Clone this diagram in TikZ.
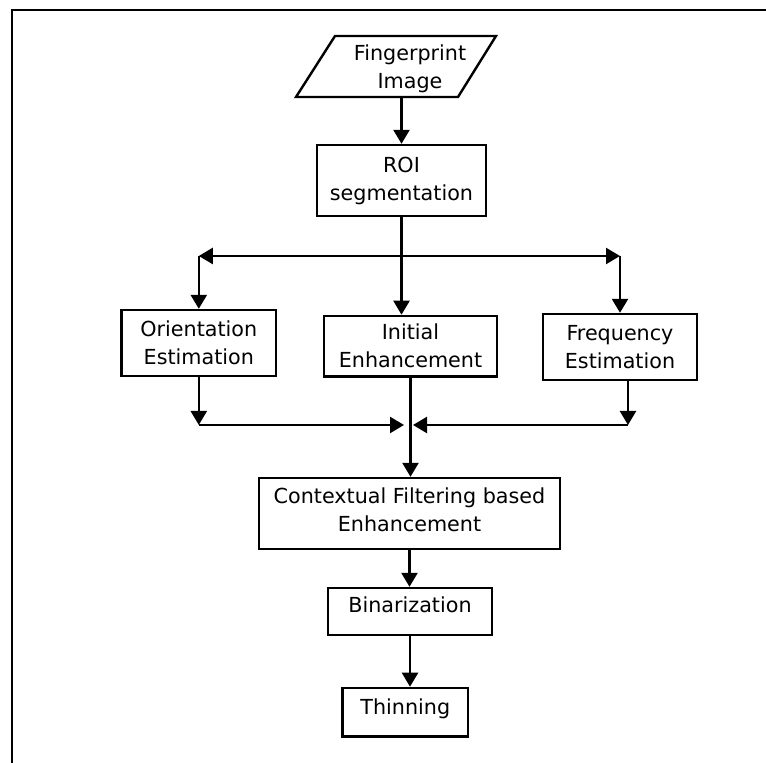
\documentclass[tikz,border=0pt]{standalone}
\usepackage{fontspec}
\setmainfont{DejaVu Sans}
\usetikzlibrary{arrows.meta}

\begin{document}
\begin{tikzpicture}[x=0.5pt, y=-0.5pt, line width=1.2pt, >={Triangle[length=7pt,width=8pt]},
  txt/.style={inner sep=0pt, align=center, font=\fontsize{10.35pt}{14pt}\selectfont},
  box/.style={txt, draw}]
\useasboundingbox (0,0) rectangle (766,763);
\draw (12,763) -- (12,10) -- (766,10);

% input image
\draw (335,36) -- (496,36) -- (458,97) -- (296,97) -- cycle;
\node[txt] at (410,68.6)(img) {Fingerprint\\Image};
\coordinate (imgbot) at (401.5,97);

\node[box, minimum width=84.5pt, minimum height=35.5pt] at (401.5,180.5)(roi) {ROI\\segmentation};
\node[box, minimum width=77.2pt, minimum height=33pt] at (198.8,343)(ori) {Orientation\\Estimation};
\node[box, minimum width=86.5pt, minimum height=30.3pt] at (410.5,346.2)(init) {Initial\\Enhancement};
\node[box, minimum width=77pt, minimum height=33pt] at (620,347)(freq) {Frequency\\Estimation};
\node[box, minimum width=150.5pt, minimum height=35.5pt, text depth=4pt] at (409.5,513.5)(ctx) {Contextual Filtering based\\Enhancement};
\node[box, minimum width=82pt, minimum height=23.5pt, text depth=6.6pt] at (410,611.5)(bin) {Binarization};
\node[box, minimum width=62.7pt, minimum height=24.4pt, text depth=5.2pt] at (405.3,712.3)(thin) {Thinning};

\coordinate (split) at (401.5,256);
\coordinate (merge) at (408.5,425);

\draw[->] (imgbot) -- (roi.north);
\draw[->] (roi.south) -- (roi.south |- init.north);
\draw[<->] (split -| ori.north) -- (split -| freq.north);
\draw[->] (split -| ori.north) -- (ori.north);
\draw[->] (split -| freq.north) -- (freq.north);

\draw[->] (ori.south) -- (ori.south |- merge);
\draw[->] (ori.south |- merge) -- ([xshift=-2.25pt]merge);
\draw[->] ([xshift=4pt]freq.south) -- ([xshift=4pt]freq.south |- merge);
\draw[->] ([xshift=4pt]freq.south |- merge) -- ([xshift=2.25pt]merge);
\draw[->] (init.south) -- (init.south |- ctx.north);
\draw[->] (ctx.south) -- (ctx.south |- bin.north);
\draw[->] (bin.south) -- (bin.south |- thin.north);

\end{tikzpicture}
\end{document}
